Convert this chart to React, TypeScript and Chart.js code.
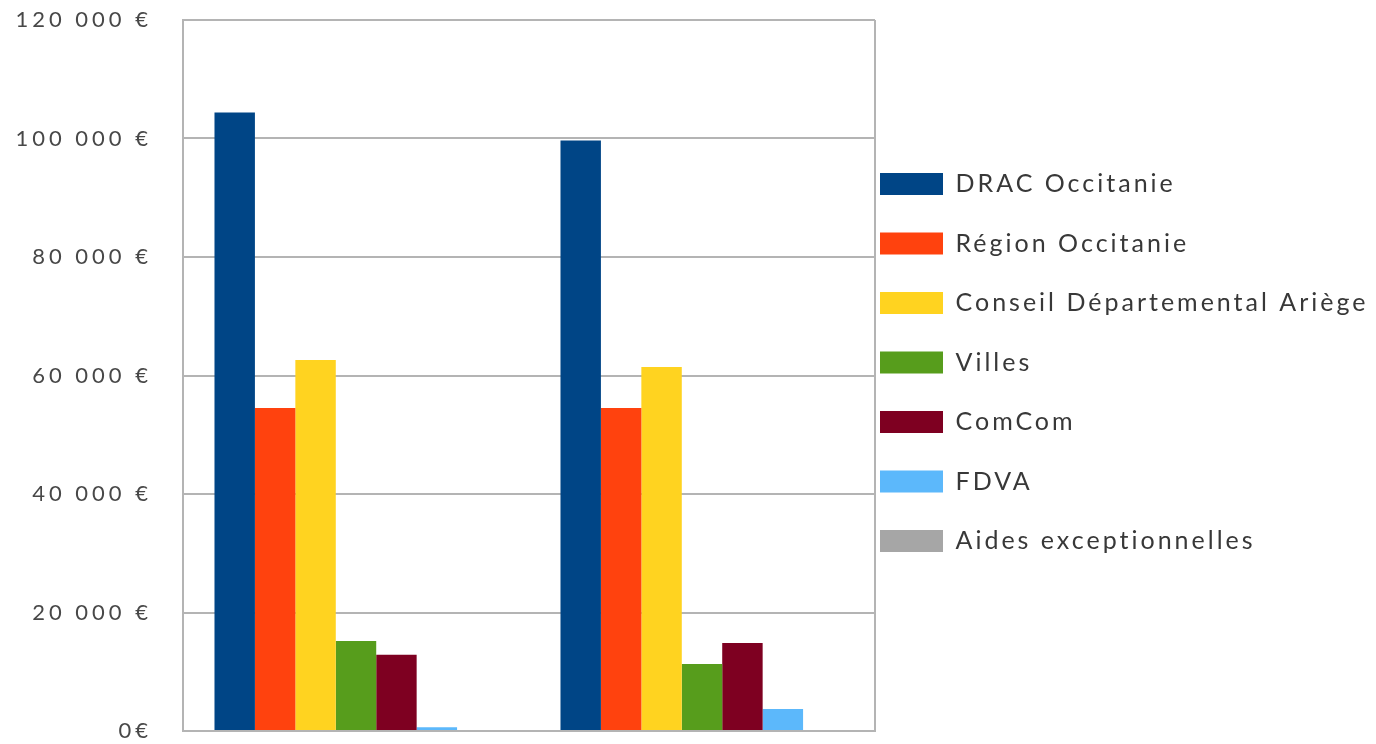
import React, { useEffect, useRef } from "react";
import { Chart, registerables } from "chart.js";

Chart.register(...registerables);

// ---- data ----
const categories = ["Période 1", "Période 2"];
const seriesNames = [
  "DRAC Occitanie",
  "Région Occitanie",
  "Conseil Départemental Ariège",
  "Villes",
  "ComCom",
  "FDVA",
  "Aides exceptionnelles",
];
const dracValues = [104400, 99650];
const regionValues = [54500, 54500];
const departementValues = [62600, 61450];
const villesValues = [15200, 11300];
const comcomValues = [12850, 14850];
const fdvaValues = [650, 3700];
const aidesValues = [0, 0];
const yTickValues = [0, 20000, 40000, 60000, 80000, 100000, 120000];

const seriesValues = [
  dracValues,
  regionValues,
  departementValues,
  villesValues,
  comcomValues,
  fdvaValues,
  aidesValues,
];
const seriesColors = [
  "#004586",
  "#ff420e",
  "#ffd320",
  "#579d1c",
  "#7e0021",
  "#5cb8fb",
  "#a6a6a6",
];

// ---- styling constants ----
const FONT = "Lato, 'Open Sans', sans-serif";
const LEGEND_SPACING = "3px";
const TICK_SPACING = "4px";
const LEGEND_PAD = 34.5;
const GRID_COLOR = "#b4b4b4";

function formatEuro(v: number): string {
  if (v === 0) return "0€";
  return String(Math.round(v)).replace(/\B(?=(\d{3})+(?!\d))/g, " ") + " €";
}

const tweaks = {
  id: "tweaks",
  beforeLayout(chart: any) {
    chart.ctx.letterSpacing = LEGEND_SPACING;
  },
  afterLayout(chart: any) {
    const lg = chart.legend;
    const ca = chart.chartArea;
    if (!lg || !ca) return;
    const dx = ca.right + 5 - LEGEND_PAD - lg.left;
    lg.left += dx;
    lg.right = chart.width;
    lg.width = lg.right - lg.left;
    lg.top -= 13;
    lg.bottom -= 13;
  },
  beforeDraw(chart: any) {
    chart.ctx.letterSpacing = LEGEND_SPACING;
  },
  beforeDatasetsDraw(chart: any) {
    const { ctx, chartArea } = chart;
    ctx.save();
    ctx.strokeStyle = GRID_COLOR;
    ctx.lineWidth = 2;
    ctx.beginPath();
    ctx.moveTo(chartArea.right, chartArea.top);
    ctx.lineTo(chartArea.right, chartArea.bottom);
    ctx.stroke();
    ctx.restore();
  },
  afterDatasetsDraw(chart: any) {
    chart.ctx.letterSpacing = TICK_SPACING;
  },
};

export default function App() {
  const canvasRef = useRef<HTMLCanvasElement | null>(null);

  useEffect(() => {
    if (!canvasRef.current) return;
    const chart = new Chart(canvasRef.current, {
      type: "bar",
      data: {
        labels: categories,
        datasets: seriesNames.map((name, i) => ({
          label: name,
          data: seriesValues[i],
          backgroundColor: seriesColors[i],
          borderWidth: 0,
          categoryPercentage: 0.818,
          barPercentage: 1.0,
        })),
      },
      options: {
        animation: false,
        responsive: true,
        maintainAspectRatio: false,
        layout: { padding: { top: 20, bottom: 13, left: 0, right: 0 } },
        plugins: {
          tooltip: { enabled: false },
          title: { display: false },
          legend: {
            display: true,
            position: "right",
            align: "center",
            maxWidth: 501,
            labels: {
              boxWidth: 63,
              boxHeight: 22,
              padding: LEGEND_PAD,
              color: "#383838",
              font: { family: FONT, size: 25 },
            },
          },
        },
        scales: {
          x: {
            ticks: { display: false },
            grid: { display: false, drawTicks: false },
            border: { display: true, color: GRID_COLOR, width: 2 },
          },
          y: {
            min: 0,
            max: 120000,
            afterBuildTicks: (scale: any) => {
              scale.ticks = yTickValues.map((v) => ({ value: v }));
            },
            afterFit: (scale: any) => {
              scale.width = 183;
              scale.paddingTop = 0;
              scale.paddingBottom = 0;
            },
            ticks: {
              z: 1,
              padding: 31,
              color: "#484848",
              font: { family: FONT, size: 22 },
              callback: (v: any) => formatEuro(Number(v)),
            },
            grid: { color: GRID_COLOR, lineWidth: 2, drawTicks: false },
            border: { display: true, color: GRID_COLOR, width: 2 },
          },
        },
      },
      plugins: [tweaks],
    });
    return () => chart.destroy();
  }, []);

  return (
    <div style={{ position: "fixed", left: 0, top: 0, width: 1376, height: 744, background: "#fff" }}>
      <canvas ref={canvasRef} />
    </div>
  );
}
